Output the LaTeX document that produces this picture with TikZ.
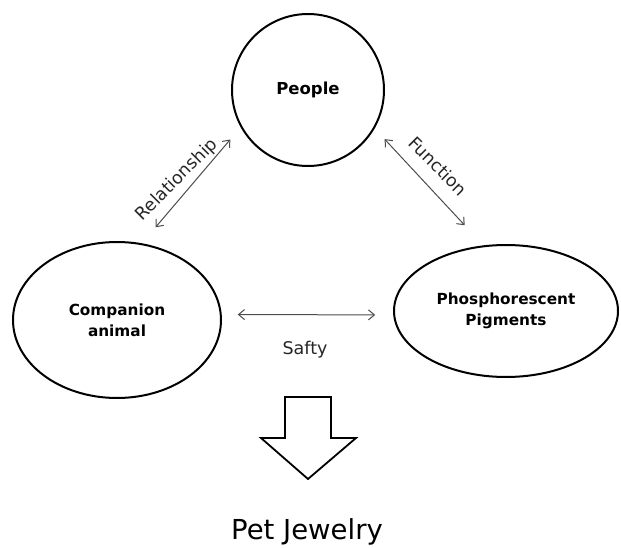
\documentclass[tikz,border=0pt]{standalone}
\usepackage{fontspec}
\setmainfont{DejaVu Sans}
\usetikzlibrary{shapes.geometric,arrows.meta}
\begin{document}
\begin{tikzpicture}[x=1pt,y=-1pt,
  bubble/.style={draw=black,line width=2pt,inner sep=0pt,align=center,
    font=\fontsize{15.3}{21}\selectfont\bfseries},
  link/.style={draw=black!70,line width=1pt,
    {Straight Barb[length=6pt,width=10pt]}-{Straight Barb[length=6pt,width=10pt]}},
  lab/.style={font=\fontsize{17.5}{20}\selectfont,text=black!85}]
\useasboundingbox (0,0) rectangle (621,548);
\node[bubble,circle,minimum size=152pt,font=\fontsize{16.5}{21}\selectfont\bfseries] (people) at (308,90) {People};
\node[bubble,ellipse,minimum width=208pt,minimum height=156pt] (comp) at (117,320) {Companion\\animal};
\node[bubble,ellipse,minimum width=224pt,minimum height=132pt] (phos) at (506,311) {Phosphorescent\\Pigments};
\draw[link,shorten <=16pt,shorten >=21pt] (people.209) -- (comp.72.3);
\draw[link,shorten <=14.5pt,shorten >=27.5pt] (people.330.6) -- (phos.109.1);
\draw[link,shorten <=16pt,shorten >=18pt] (comp.3) -- (phos.182);
\node[lab,rotate=45] (lrel) at (177,180) {Relationship};
\node[lab,rotate=-45] (lfun) at (438,166) {Function};
\node[lab] (lsaf) at (305,350) {Safty};
\draw[line width=1.8pt,fill=white,line join=miter] (285,397) -- (331,397) -- (331,438) -- (356,438) -- (308,479) -- (261,438) -- (285,438) -- cycle;
\node[anchor=base,font=\fontsize{27.5}{32}\selectfont] (pet) at (307,539) {Pet Jewelry};
\end{tikzpicture}
\end{document}
